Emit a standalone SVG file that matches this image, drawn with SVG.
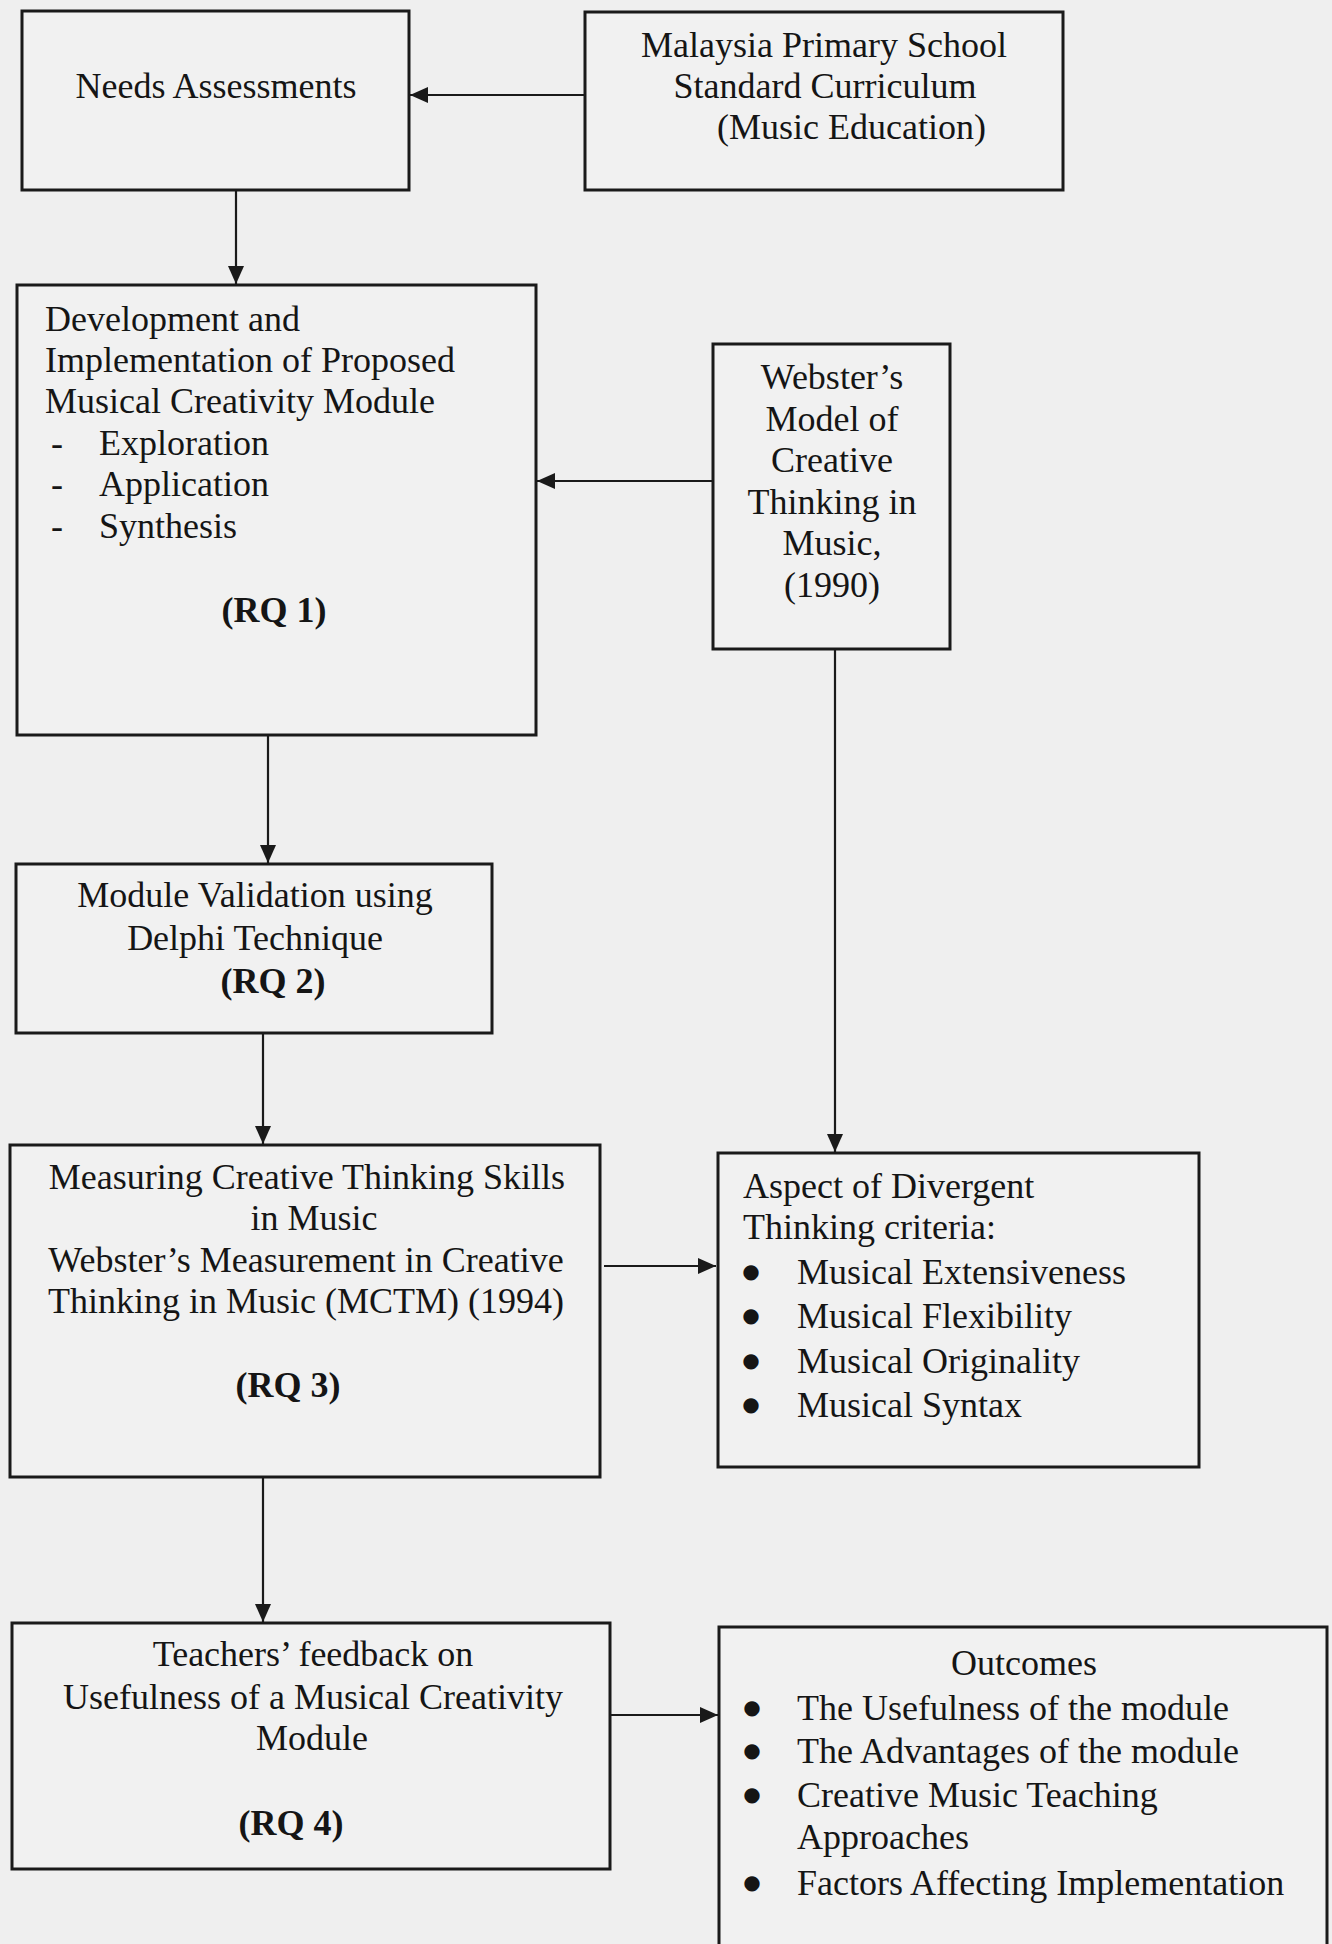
<svg xmlns="http://www.w3.org/2000/svg" width="1332" height="1944" viewBox="0 0 1332 1944">
<style>
.bg{fill:#efefef}
.box{fill:#f1f1f1;stroke:#1a1a1a;stroke-width:3}
.t{font-family:"Liberation Serif","Times New Roman",serif;font-size:36px;fill:#151515}
.c{text-anchor:middle}
.b{font-weight:bold}
.bu{font-family:"DejaVu Sans",sans-serif;font-size:20px;fill:#151515;text-anchor:middle}
.conn line{stroke:#1a1a1a;stroke-width:2.2;fill:none}
</style>
<defs>
<marker id="ah" markerUnits="userSpaceOnUse" markerWidth="20" markerHeight="18" refX="18" refY="8" orient="auto">
<path d="M0,0 L18,8 L0,16 z" fill="#1a1a1a"/>
</marker>
</defs>
<rect class="bg" x="0" y="0" width="1332" height="1944"/>

<g id="needs">
<rect class="box" x="22" y="11" width="387" height="179"/>
<text class="t c" x="216" y="98">Needs Assessments</text>
</g>

<g id="curriculum">
<rect class="box" x="585" y="12" width="478" height="178"/>
<text class="t c" x="824" y="57">Malaysia Primary School</text>
<text class="t c" x="825" y="98">Standard Curriculum</text>
<text class="t" x="717" y="139">(Music Education)</text>
</g>

<g id="development">
<rect class="box" x="17" y="285" width="519" height="450"/>
<text class="t" x="45" y="331">Development and</text>
<text class="t" x="45" y="372">Implementation of Proposed</text>
<text class="t" x="45" y="413">Musical Creativity Module</text>
<text class="t" x="51" y="455">-</text><text class="t" x="99" y="455">Exploration</text>
<text class="t" x="51" y="496">-</text><text class="t" x="99" y="496">Application</text>
<text class="t" x="51" y="538">-</text><text class="t" x="99" y="538">Synthesis</text>
<text class="t c b" x="274" y="622">(RQ 1)</text>
</g>

<g id="webster-model">
<rect class="box" x="713" y="344" width="237" height="305"/>
<text class="t c" x="832" y="389">Webster’s</text>
<text class="t c" x="832" y="431">Model of</text>
<text class="t c" x="832" y="472">Creative</text>
<text class="t c" x="832" y="514">Thinking in</text>
<text class="t c" x="832" y="555">Music,</text>
<text class="t c" x="832" y="597">(1990)</text>
</g>

<g id="validation">
<rect class="box" x="16" y="864" width="476" height="169"/>
<text class="t c" x="255" y="907">Module Validation using</text>
<text class="t c" x="255" y="950">Delphi Technique</text>
<text class="t c b" x="273" y="993">(RQ 2)</text>
</g>

<g id="measuring">
<rect class="box" x="10" y="1145" width="590" height="332"/>
<text class="t c" x="307" y="1189">Measuring Creative Thinking Skills</text>
<text class="t c" x="314" y="1230">in Music</text>
<text class="t c" x="306" y="1272">Webster’s Measurement in Creative</text>
<text class="t c" x="306" y="1313">Thinking in Music (MCTM) (1994)</text>
<text class="t c b" x="288" y="1397">(RQ 3)</text>
</g>

<g id="divergent">
<rect class="box" x="718" y="1153" width="481" height="314"/>
<text class="t" x="743" y="1198">Aspect of Divergent</text>
<text class="t" x="743" y="1239">Thinking criteria:</text>
<text class="bu" x="751" y="1278">●</text><text class="t" x="797" y="1284">Musical Extensiveness</text>
<text class="bu" x="751" y="1322">●</text><text class="t" x="797" y="1328">Musical Flexibility</text>
<text class="bu" x="751" y="1367">●</text><text class="t" x="797" y="1373">Musical Originality</text>
<text class="bu" x="751" y="1411">●</text><text class="t" x="797" y="1417">Musical Syntax</text>
</g>

<g id="feedback">
<rect class="box" x="12" y="1623" width="598" height="246"/>
<text class="t c" x="313" y="1666">Teachers’ feedback on</text>
<text class="t c" x="313" y="1709">Usefulness of a Musical Creativity</text>
<text class="t c" x="312" y="1750">Module</text>
<text class="t c b" x="291" y="1835">(RQ 4)</text>
</g>

<g id="outcomes">
<rect class="box" x="719" y="1627" width="608" height="330"/>
<text class="t c" x="1024" y="1675">Outcomes</text>
<text class="bu" x="752" y="1714">●</text><text class="t" x="797" y="1720">The Usefulness of the module</text>
<text class="bu" x="752" y="1757">●</text><text class="t" x="797" y="1763">The Advantages of the module</text>
<text class="bu" x="752" y="1801">●</text><text class="t" x="797" y="1807">Creative Music Teaching</text>
<text class="t" x="797" y="1849">Approaches</text>
<text class="bu" x="752" y="1889">●</text><text class="t" x="797" y="1895">Factors Affecting Implementation</text>
</g>

<g id="connectors" class="conn">
<line x1="585" y1="95" x2="410" y2="95" marker-end="url(#ah)"/>
<line x1="236" y1="190" x2="236" y2="284" marker-end="url(#ah)"/>
<line x1="713" y1="481" x2="537" y2="481" marker-end="url(#ah)"/>
<line x1="268" y1="735" x2="268" y2="863" marker-end="url(#ah)"/>
<line x1="263" y1="1033" x2="263" y2="1144" marker-end="url(#ah)"/>
<line x1="835" y1="649" x2="835" y2="1152" marker-end="url(#ah)"/>
<line x1="604" y1="1266" x2="716" y2="1266" marker-end="url(#ah)"/>
<line x1="263" y1="1477" x2="263" y2="1622" marker-end="url(#ah)"/>
<line x1="610" y1="1715" x2="718" y2="1715" marker-end="url(#ah)"/>
</g>
</svg>
